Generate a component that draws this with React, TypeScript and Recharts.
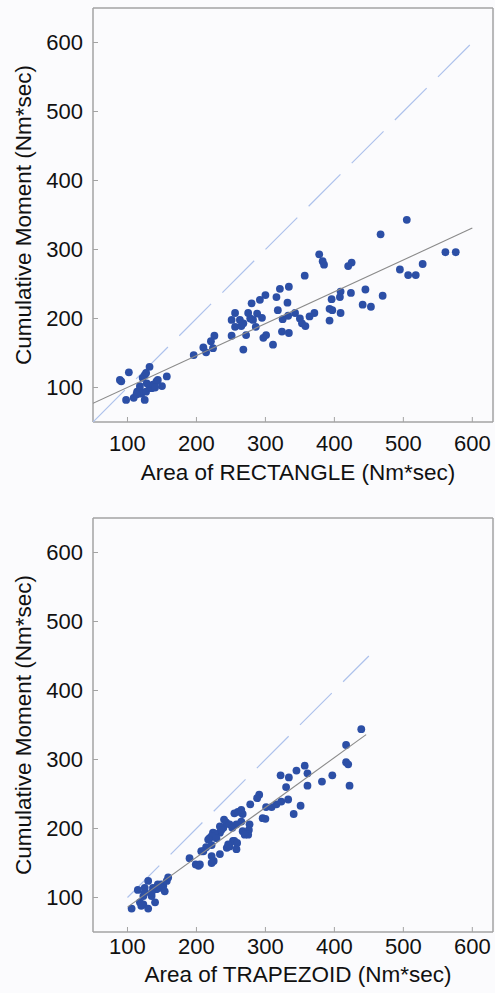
import React from "react";
import {
  ScatterChart,
  Scatter,
  XAxis,
  YAxis,
  Label,
} from "recharts";

// values (Nm*sec)
const rectX = [
  89, 91, 102, 98, 109, 114, 118, 118, 122, 125, 127, 132, 125, 120, 127, 132, 135, 137, 142, 144, 150, 157, 113, 128, 140,
  196, 210, 214, 224, 221, 226, 251, 256, 251, 256, 263, 265, 268, 272, 275, 280, 282, 286, 288, 292, 295, 300, 297, 301,
  311, 316, 321, 318, 325, 332, 334, 333, 324, 334, 343, 350, 353, 358, 364, 371, 357, 378, 383, 385, 268, 278,
  505, 467, 425, 420, 495, 507, 518, 528, 561, 576, 445, 424, 409, 408, 396, 470, 441, 453, 393, 397, 409, 393,
];
const rectY = [
  111, 109, 122, 82, 85, 94, 102, 97, 114, 118, 121, 130, 82, 91, 94, 99, 99, 104, 109, 111, 102, 116, 90, 106, 100,
  147, 158, 151, 157, 167, 175, 175, 208, 198, 188, 198, 189, 155, 176, 208, 222, 198, 188, 207, 227, 201, 234, 172, 176,
  162, 231, 243, 212, 199, 223, 246, 204, 181, 179, 208, 200, 193, 189, 203, 208, 262, 293, 283, 278, 193, 200,
  343, 322, 281, 276, 271, 263, 263, 279, 296, 296, 242, 237, 239, 231, 228, 233, 220, 217, 214, 212, 208, 197,
];

const trapX = [
  106, 118, 123, 130, 115, 125, 130, 123, 135, 140, 142, 147, 149, 152, 157, 159, 154, 137, 144, 125, 135, 120,
  190, 199, 203, 210, 214, 222, 225, 234, 244, 248, 253, 258, 219, 224, 234, 239, 255, 258, 240, 243, 248, 252,
  234, 236, 226, 222, 229, 217, 207, 222, 259, 246, 222, 205,
  265, 277, 276, 275, 267, 270, 255, 260, 267, 265, 278, 291, 288, 296, 300, 301, 309, 316, 323, 333, 341, 351,
  330, 322, 334, 345, 357, 361, 361, 382, 397, 422, 417, 420, 417, 439,
];
const trapY = [
  84, 93, 90, 84, 111, 114, 124, 102, 102, 93, 112, 114, 119, 117, 124, 129, 109, 114, 119, 107, 107, 88,
  157, 148, 146, 167, 173, 160, 153, 163, 172, 174, 182, 170, 186, 194, 194, 201, 182, 206, 213, 209, 206, 201,
  203, 198, 193, 189, 186, 184, 167, 176, 179, 177, 150, 148,
  210, 206, 198, 191, 196, 191, 222, 224, 221, 227, 235, 249, 244, 215, 214, 231, 231, 235, 239, 242, 221, 233,
  260, 277, 274, 284, 291, 280, 262, 268, 277, 262, 296, 293, 321, 344,
];

// fitted line and line of identity, end points
const rectFitX = [50, 600];
const rectFitY = [77, 331];
const rectIdX = [50, 600];
const trapFitX = [100, 446];
const trapFitY = [86, 336];
const trapIdX = [100, 450];

const ticks = [100, 200, 300, 400, 500, 600];

const pts = (xs: number[], ys: number[]) => xs.map((x, i) => ({ x, y: ys[i] }));

const DOT = "#2c4fa6";
const AXIS = "#a3a3a3";
const FONT = "'Liberation Sans', Arial, sans-serif";

const Dot = (p: any) => <circle cx={p.cx} cy={p.cy} r={3.9} fill={DOT} />;
const NoDot = () => null;

function Panel({
  top,
  height,
  topPad,
  bottomPad,
  tickGap,
  titleDrop,
  data,
  fit,
  ident,
  xLabel,
}: {
  top: number;
  height: number;
  topPad: number;
  bottomPad: number;
  tickGap: number;
  titleDrop: number;
  data: { x: number; y: number }[];
  fit: { x: number; y: number }[];
  ident: { x: number; y: number }[];
  xLabel: string;
}) {
  const tickStyle = { fontSize: 22, fill: "#111", fontFamily: FONT };
  return (
    <div style={{ position: "absolute", left: 0, top }}>
      <ScatterChart width={495} height={height} margin={{ top: 0, right: 0, bottom: 0, left: 0 }}>
        <XAxis
          xAxisId="b"
          type="number"
          dataKey="x"
          domain={[50, 630]}
          allowDataOverflow
          ticks={ticks}
          height={bottomPad}
          tickSize={-5}
          tickMargin={tickGap}
          tick={tickStyle}
          axisLine={{ stroke: AXIS, strokeWidth: 1.5 }}
          tickLine={{ stroke: AXIS }}
        >
          <Label
            content={(props: any) => {
              const vb = props.viewBox;
              return (
                <text
                  x={vb.x + vb.width / 2 + 5}
                  y={vb.y + titleDrop}
                  textAnchor="middle"
                  fontSize={22.5}
                  fontFamily={FONT}
                  fill="#111"
                >
                  {xLabel}
                </text>
              );
            }}
          />
        </XAxis>
        <XAxis
          xAxisId="t"
          orientation="top"
          type="number"
          dataKey="x"
          domain={[50, 630]}
          allowDataOverflow
          ticks={ticks}
          height={topPad}
          tickSize={-5}
          tick={false}
          axisLine={{ stroke: AXIS, strokeWidth: 1.5 }}
          tickLine={{ stroke: AXIS }}
        />
        <YAxis
          yAxisId="l"
          type="number"
          dataKey="y"
          domain={[50, 650]}
          allowDataOverflow
          ticks={ticks}
          width={93}
          tickSize={-5}
          tickMargin={15}
          tick={tickStyle}
          axisLine={{ stroke: AXIS, strokeWidth: 1.5 }}
          tickLine={{ stroke: AXIS }}
        >
          <Label
            content={(props: any) => {
              const vb = props.viewBox;
              const cx = vb.x + 23;
              const cy = vb.y + vb.height / 2;
              return (
                <text
                  x={cx}
                  y={cy}
                  transform={`rotate(-90 ${cx} ${cy})`}
                  textAnchor="middle"
                  dominantBaseline="central"
                  fontSize={22.5}
                  fontFamily={FONT}
                  fill="#111"
                >
                  Cumulative Moment (Nm*sec)
                </text>
              );
            }}
          />
        </YAxis>
        <YAxis
          yAxisId="r"
          orientation="right"
          type="number"
          dataKey="y"
          domain={[50, 650]}
          allowDataOverflow
          ticks={ticks}
          width={2}
          tickSize={-5}
          tick={false}
          axisLine={{ stroke: AXIS, strokeWidth: 1.5 }}
          tickLine={{ stroke: AXIS }}
        />
        <Scatter
          xAxisId="b"
          yAxisId="l"
          data={ident}
          line={{ stroke: "#aec2ec", strokeWidth: 1.2, strokeDasharray: "45 16" }}
          shape={NoDot}
          isAnimationActive={false}
        />
        <Scatter
          xAxisId="b"
          yAxisId="l"
          data={data}
          shape={Dot}
          isAnimationActive={false}
        />
        <Scatter
          xAxisId="b"
          yAxisId="l"
          data={fit}
          line={{ stroke: "#8a8a8a", strokeWidth: 1.1 }}
          shape={NoDot}
          isAnimationActive={false}
        />
      </ScatterChart>
    </div>
  );
}

export default function App() {
  return (
    <div
      style={{
        position: "absolute",
        left: 0,
        top: 0,
        width: 495,
        height: 993,
        background: "#fbfbfd",
        overflow: "hidden",
      }}
    >
      <Panel
        top={0}
        height={500}
        topPad={8}
        bottomPad={78}
        tickGap={18}
        titleDrop={58}
        data={pts(rectX, rectY)}
        fit={pts(rectFitX, rectFitY)}
        ident={pts(rectIdX, rectIdX)}
        xLabel="Area of RECTANGLE (Nm*sec)"
      />
      <Panel
        top={500}
        height={493}
        topPad={18}
        bottomPad={61}
        tickGap={11}
        titleDrop={50}
        data={pts(trapX, trapY)}
        fit={pts(trapFitX, trapFitY)}
        ident={pts(trapIdX, trapIdX)}
        xLabel="Area of TRAPEZOID (Nm*sec)"
      />
    </div>
  );
}
